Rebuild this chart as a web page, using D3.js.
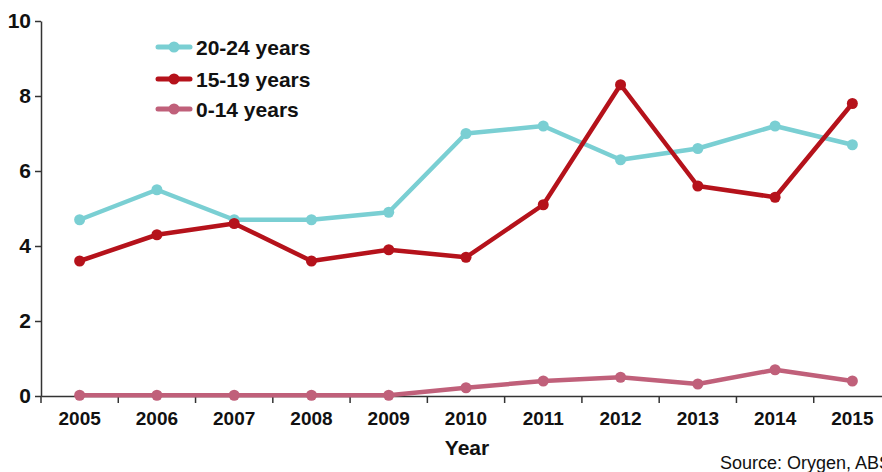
<!DOCTYPE html>
<html><head><meta charset="utf-8">
<script src="https://cdn.jsdelivr.net/npm/d3@7"></script>
<style>body{margin:0;background:#fff}svg{display:block}</style>
</head><body>
<svg id="c" width="882" height="472"></svg>
<script>
const years = ["2005","2006","2007","2008","2009","2010","2011","2012","2013","2014","2015"];
const s2024 = [4.7,5.5,4.7,4.7,4.9,7.0,7.2,6.3,6.6,7.2,6.7];
const s1519 = [3.6,4.3,4.6,3.6,3.9,3.7,5.1,8.3,5.6,5.3,7.8];
const s0014 = [0.02,0.02,0.02,0.02,0.02,0.22,0.4,0.5,0.32,0.7,0.4];
const yTicks = [0,2,4,6,8,10];
const seriesNames = ["20-24 years","15-19 years","0-14 years"];
const seriesColors = ["#7ACFD3","#B5121B","#C0607A"];
const seriesData = [s2024, s1519, s0014];

const svg = d3.select("#c");
const font = "'Liberation Sans', Arial, sans-serif";
const x = d3.scaleBand().domain(years).range([41, 891]);
const y = d3.scaleLinear().domain([0,10]).range([396, 21]);

// y axis
const ya = svg.append("g").attr("transform","translate(41,0)")
  .call(d3.axisLeft(y).tickValues(yTicks).tickSize(6).tickSizeOuter(0).tickPadding(4));
ya.select(".domain").attr("stroke","#333").attr("stroke-width",1.5);
ya.selectAll(".tick line").attr("stroke","#333").attr("stroke-width",1.5);
ya.selectAll(".tick text").attr("font-family",font).attr("font-weight","bold")
  .attr("font-size",21).attr("fill","#111");

// x axis
const xa = svg.append("g").attr("transform","translate(0,396)")
  .call(d3.axisBottom(x).tickSize(0).tickSizeOuter(0).tickPadding(16));
xa.select(".domain").attr("stroke","#333").attr("stroke-width",1.5);
xa.selectAll(".tick text").attr("font-family",font).attr("font-weight","bold")
  .attr("font-size",19).attr("fill","#111");
xa.selectAll(".bt").data(years).enter().append("line").attr("class","bt")
  .attr("x1",d=>x(d)).attr("x2",d=>x(d)).attr("y1",0).attr("y2",7)
  .attr("stroke","#333").attr("stroke-width",1.5);

svg.append("text").attr("x",467).attr("y",455).attr("text-anchor","middle")
  .attr("font-family",font).attr("font-weight","bold").attr("font-size",21)
  .attr("fill","#111").text("Year");

// lines
const line = d3.line().x((d,i)=>x(years[i])+x.bandwidth()/2).y(d=>y(d));
[2,0,1].forEach(k=>{
  const g = svg.append("g");
  g.append("path").datum(seriesData[k]).attr("d",line).attr("fill","none")
    .attr("stroke",seriesColors[k]).attr("stroke-width",4.5).attr("stroke-linejoin","round");
  g.selectAll("circle").data(seriesData[k]).enter().append("circle")
    .attr("cx",(d,i)=>x(years[i])+x.bandwidth()/2).attr("cy",d=>y(d)).attr("r",5.5)
    .attr("fill",seriesColors[k]);
});

// legend
const legY = [47, 79, 109];
seriesNames.forEach((n,i)=>{
  const g = svg.append("g").attr("transform",`translate(0,${legY[i]})`);
  g.append("line").attr("x1",158).attr("x2",190).attr("y1",0).attr("y2",0)
    .attr("stroke",seriesColors[i]).attr("stroke-width",5).attr("stroke-linecap","round");
  g.append("circle").attr("cx",174).attr("cy",0).attr("r",5.5).attr("fill",seriesColors[i]);
  g.append("text").attr("x",196).attr("y",7.5).attr("font-family",font)
    .attr("font-weight","bold").attr("font-size",21).attr("fill","#111").text(n);
});

svg.append("text").attr("x",720).attr("y",469).attr("font-family",font)
  .attr("font-size",18).attr("fill","#111").text("Source: Orygen, ABS");
</script>
</body></html>
